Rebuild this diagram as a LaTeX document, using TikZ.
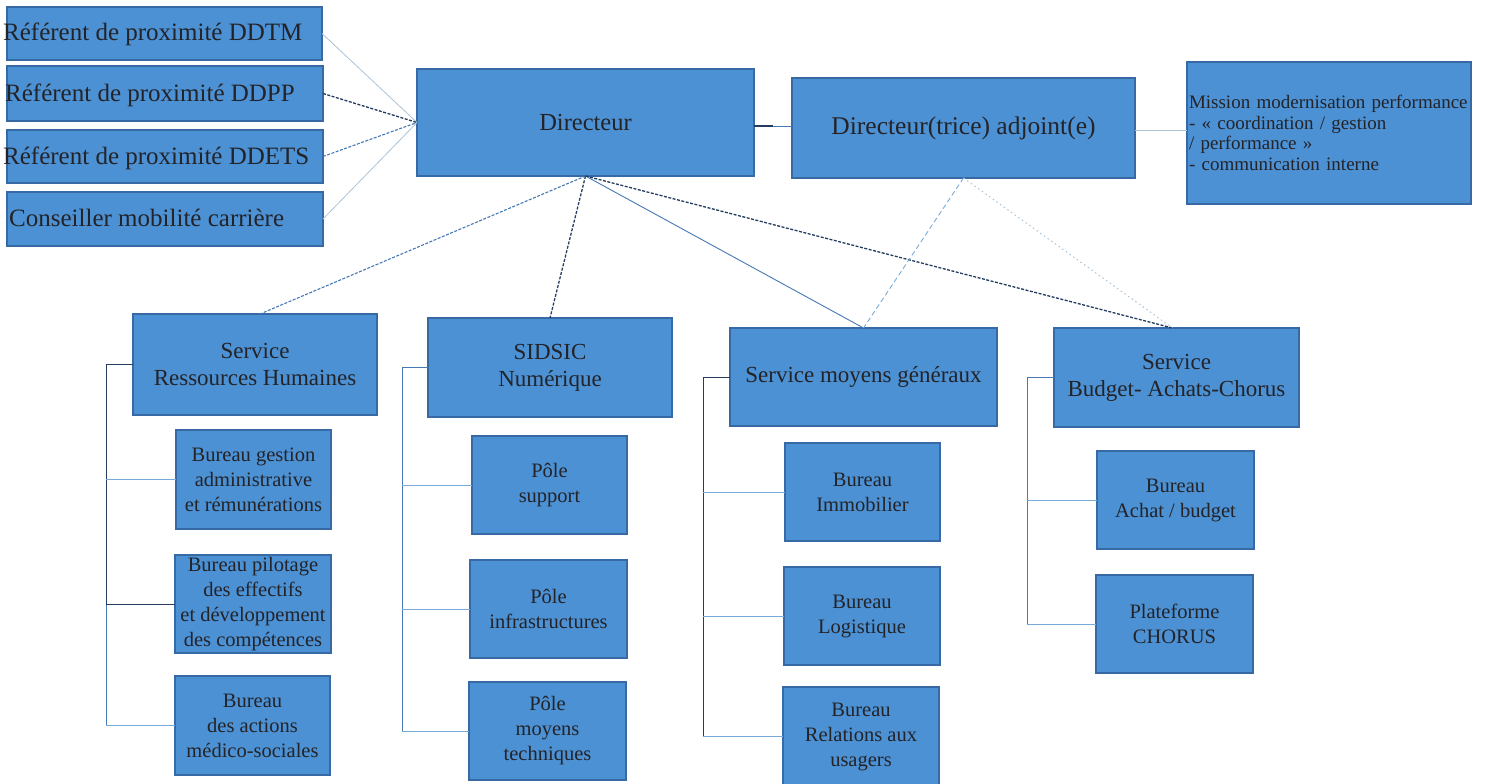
\documentclass[tikz,border=0pt]{standalone}
\usepackage{fontspec}
\setmainfont{Liberation Serif}
\definecolor{boxfill}{RGB}{76,145,212}
\definecolor{boxdraw}{RGB}{55,105,165}
\definecolor{txt}{RGB}{35,35,40}
\definecolor{ldark}{RGB}{35,60,95}
\definecolor{lmid}{RGB}{70,120,180}
\definecolor{llight}{RGB}{120,170,215}
\definecolor{lgray}{RGB}{170,195,215}
\begin{document}
\begin{tikzpicture}[x=1pt,y=-1pt,
  box/.style={draw=boxdraw, line width=1.2pt, fill=boxfill, inner sep=0pt, outer sep=0pt, text=txt, align=center},
  bigtxt/.style={font=\fontsize{25}{30}\selectfont, text=txt, inner sep=0pt},
  svc/.style={box, font=\fontsize{23}{27}\selectfont},
  bur/.style={box, font=\fontsize{20.5}{25}\selectfont},
  thinlight/.style={draw=lgray, line width=0.8pt},
  dashdark/.style={draw=ldark, line width=1.3pt, dash pattern=on 3pt off 1.5pt},
  dashmid/.style={draw=lmid, line width=1.1pt, dash pattern=on 3pt off 1.5pt},
  dashlight/.style={draw=llight, line width=0.9pt, dash pattern=on 5pt off 3pt},
  dotlight/.style={draw=lgray, line width=1pt, dash pattern=on 1.5pt off 3pt},
  solidmid/.style={draw=lmid, line width=0.9pt},
  trunk/.style={draw=ldark, line width=1pt},
  trunkmid/.style={draw=lmid, line width=1pt},
  branch/.style={draw=llight, line width=0.9pt}
]
\useasboundingbox (0,0) rectangle (1486,784);

% left boxes
\node[box, minimum width=315pt, minimum height=53pt] (ddtm) at (164.5,33.5) {};
\node[box, minimum width=316pt, minimum height=55pt] (ddpp) at (165,93.5) {};
\node[box, minimum width=316pt, minimum height=53pt] (ddets) at (165,156.5) {};
\node[box, minimum width=316pt, minimum height=54pt] (cons) at (165,219) {};
\node[bigtxt, anchor=base west] (tddtm) at (3,41) {Référent de proximité DDTM};
\node[bigtxt, anchor=base west] (tddpp) at (5,101) {Référent de proximité DDPP};
\node[bigtxt, anchor=base west] (tddets) at (3,164) {Référent de proximité DDETS};
\node[bigtxt, anchor=base west] (tcons) at (9,226) {Conseiller mobilité carrière};

% top row
\node[box, font=\fontsize{24.5}{29}\selectfont, minimum width=337pt, minimum height=107pt] (dir) at (585.5,122.5) {Directeur};
\node[box, font=\fontsize{25.5}{30}\selectfont, minimum width=343pt, minimum height=100pt] (adj) at (963.5,128) {Directeur(trice) adjoint(e)};
\node[box, font=\fontsize{19}{20.5}\selectfont, minimum width=284pt, minimum height=142pt, text width=280pt, inner xsep=2pt, align=left] (miss) at (1329,133) {Mission modernisation performance\\- « coordination / gestion\\/ performance »\\- communication interne};

% services
\node[svc, minimum width=244pt, minimum height=101pt] (rh) at (255,364.5) {Service\\Ressources Humaines};
\node[svc, minimum width=244pt, minimum height=99pt] (sid) at (550,367.5) {SIDSIC\\Numérique};
\node[svc, minimum width=267pt, minimum height=98pt] (smg) at (863.5,377) {Service moyens généraux};
\node[svc, minimum width=245pt, minimum height=99pt] (bud) at (1176.5,377.5) {Service\\Budget- Achats-Chorus};

% bureaux
\node[bur, minimum width=155pt, minimum height=99pt] (bga) at (253.5,479.5) {Bureau gestion\\administrative\\et rémunérations};
\node[bur, minimum width=156pt, minimum height=98pt] (bpe) at (253,604) {Bureau pilotage\\des effectifs\\et développement\\des compétences};
\node[bur, minimum width=155pt, minimum height=99pt] (bam) at (252.5,725.5) {Bureau\\des actions\\médico-sociales};
\node[bur, minimum width=155pt, minimum height=98pt] (ps) at (549.5,485) {Pôle\\support};
\node[bur, minimum width=157pt, minimum height=98pt] (pi) at (548.5,609) {Pôle\\infrastructures};
\node[bur, minimum width=157pt, minimum height=98pt] (pm) at (547.5,731) {Pôle\\moyens\\techniques};
\node[bur, minimum width=155pt, minimum height=98pt] (bi) at (862.5,492) {Bureau\\Immobilier};
\node[bur, minimum width=156pt, minimum height=98pt] (bl) at (862,616) {Bureau\\Logistique};
\node[bur, minimum width=156pt, minimum height=99pt] (br) at (861,736.5) {Bureau\\Relations aux\\usagers};
\node[bur, minimum width=157pt, minimum height=98pt] (ba) at (1175.5,500) {Bureau\\Achat / budget};
\node[bur, minimum width=157pt, minimum height=98pt] (pc) at (1174.5,624) {Plateforme\\CHORUS};

% left connectors
\draw[thinlight] (ddtm.east) -- (dir.west);
\draw[dashdark] (ddpp.east) -- (dir.west);
\draw[dashmid] (ddets.east) -- (dir.west);
\draw[thinlight] (cons.east) -- (dir.west);

% top connectors
\coordinate (mid) at (773,126);
\draw[ldark, line width=1.4pt] ([yshift=-3.5pt]dir.east) -- (mid);
\draw[lmid, line width=1pt] (mid) -- ([yshift=2pt]adj.west);
\draw[thinlight] ([yshift=-2pt]adj.east) -- ([yshift=3pt]miss.west);

% directeur to services
\draw[dashmid] (dir.south) -- ([xshift=5pt]rh.north);
\draw[dashdark] (dir.south) -- (sid.north);
\draw[solidmid] (dir.south) -- (smg.north);
\draw[dashdark] (dir.south) -- ([xshift=-4pt]bud.north);
\draw[dashlight] (adj.south) -- (smg.north);
\draw[dotlight] (adj.south) -- ([xshift=-4pt]bud.north);

% trees
\coordinate (rhT) at (106,364.5);
\draw[trunk] (rh.west) -- (rhT) -- (rhT |- bpe.west);
\draw[trunkmid] (rhT |- bpe.west) -- (rhT |- bam.west);
\draw[branch] (rhT |- bga.west) -- (bga.west);
\draw[trunk] (rhT |- bpe.west) -- (bpe.west);
\draw[branch] (rhT |- bam.west) -- (bam.west);

\coordinate (sidT) at (402,367.5);
\draw[trunkmid] (sid.west) -- (sidT) -- (sidT |- pm.west);
\draw[branch] (sidT |- ps.west) -- (ps.west);
\draw[branch] (sidT |- pi.west) -- (pi.west);
\draw[branch] (sidT |- pm.west) -- (pm.west);

\coordinate (smgT) at (703,377);
\draw[trunk] (smg.west) -- (smgT) -- (smgT |- br.west);
\draw[branch] (smgT |- bi.west) -- (bi.west);
\draw[branch] (smgT |- bl.west) -- (bl.west);
\draw[branch] (smgT |- br.west) -- (br.west);

\coordinate (budT) at (1027,377.5);
\draw[trunkmid] (bud.west) -- (budT) -- (budT |- pc.west);
\draw[branch] (budT |- ba.west) -- (ba.west);
\draw[branch] (budT |- pc.west) -- (pc.west);
\end{tikzpicture}
\end{document}
